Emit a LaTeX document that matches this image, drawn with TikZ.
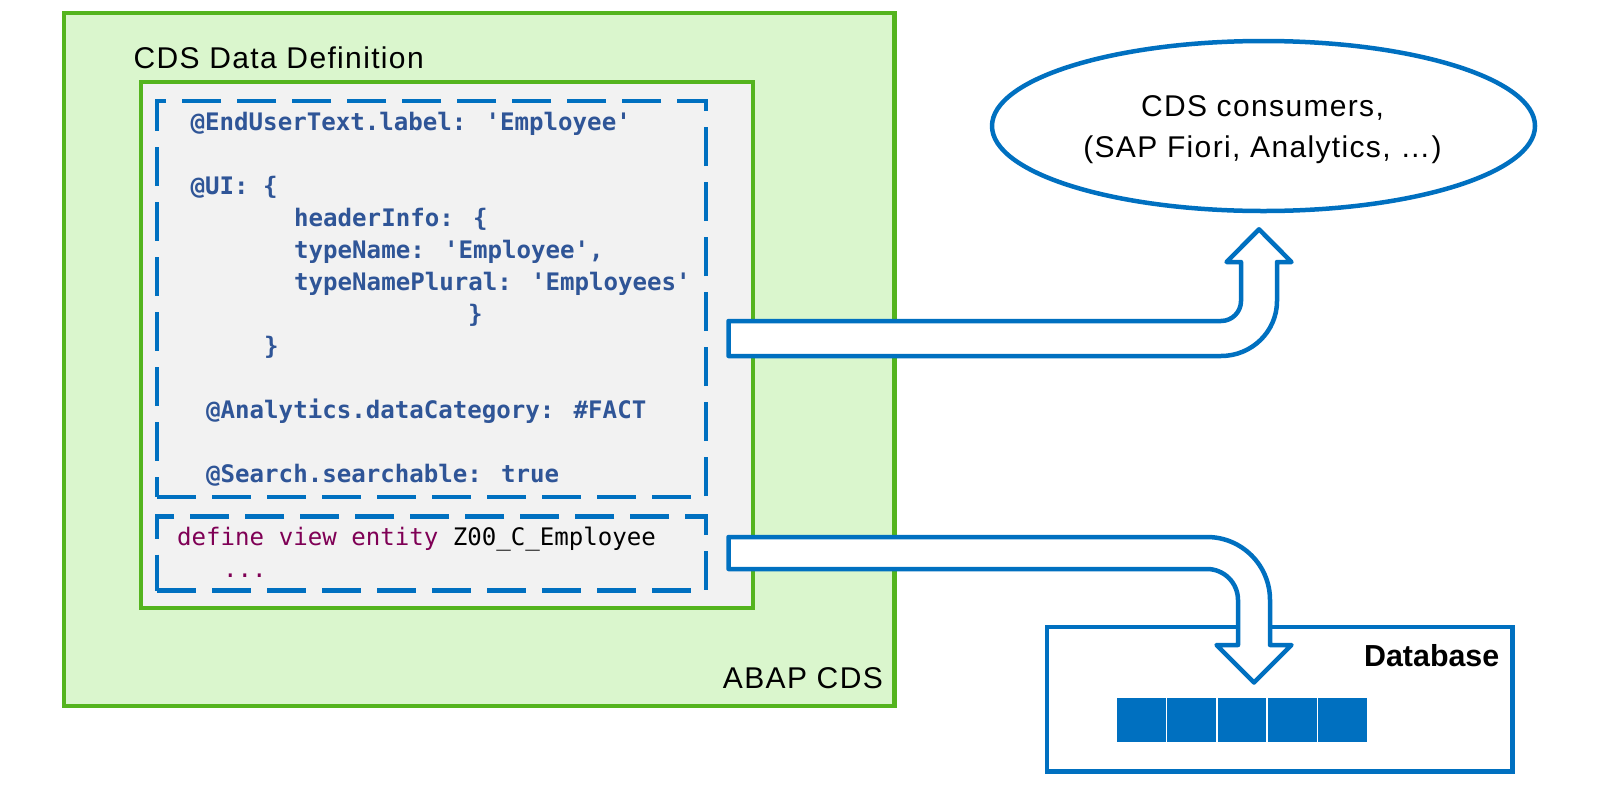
\documentclass[tikz,border=0pt]{standalone}
\usepackage{fontspec}
\setmainfont{Liberation Sans}
\newfontfamily\lblfont[LetterSpace=4.5]{Liberation Sans}
\newfontfamily\boldlbl{Liberation Sans}
\newfontfamily\codefont[Ligatures=TeXOff]{DejaVu Sans Mono}
\usetikzlibrary{shapes.geometric}
\definecolor{sapblue}{RGB}{0,112,192}
\definecolor{grn}{RGB}{84,180,30}
\definecolor{lgrn}{RGB}{218,246,205}
\definecolor{codegray}{RGB}{242,242,242}
\definecolor{annblue}{RGB}{47,85,151}
\definecolor{kwpurple}{RGB}{127,0,85}
\begin{document}
\begin{tikzpicture}[x=1pt,y=-1pt,
  greenbox/.style={draw=grn,line width=4.5pt,outer sep=0pt,inner sep=0pt},
  dashbox/.style={draw=sapblue,line width=4.3pt,dash pattern=on 39pt off 16pt,outer sep=0pt,inner sep=0pt,fill=codegray},
  blockarrow/.style={draw=sapblue,fill=white,line width=4.5pt,line join=round},
  sanslbl/.style={inner sep=0pt,font=\lblfont\fontsize{30}{36}\selectfont},
  dblbl/.style={inner sep=0pt,font=\boldlbl\bfseries\fontsize{30.4}{36}\selectfont},
  ann/.style={inner sep=0pt,anchor=base west,text=annblue,font=\codefont\bfseries\fontsize{24.1}{29}\selectfont},
  plaincode/.style={inner sep=0pt,anchor=base west,font=\codefont\fontsize{24.1}{29}\selectfont},
  cell/.style={fill=sapblue,draw=white,line width=1.2pt,minimum width=50.12pt,minimum height=45pt,inner sep=0pt,outer sep=0pt}]
\useasboundingbox[fill=white] (0,0) rectangle (1600,785);

% ABAP CDS outer box
\node[greenbox,fill=lgrn,minimum width=830.5pt,minimum height=693pt] (abap) at (479.25,359.5) {};
% CDS Data Definition inner box
\node[greenbox,fill=codegray,minimum width=612pt,minimum height=526pt] (ddl) at (447,345) {};
\node[sanslbl,anchor=base west] (ddltitle) at (133.5,68) {CDS Data Definition};
\node[sanslbl,anchor=base east] (abaptitle) at (883,688.3) {ABAP CDS};

% dashed boxes
\node[dashbox,minimum width=549pt,minimum height=396pt] (annbox) at (431.5,299) {};
\node[dashbox,minimum width=549pt,minimum height=74pt] (defbox) at (431.5,553.5) {};

% annotation code
\node[ann] (l1) at (190.5,130) {@EndUserText.label: 'Employee'};
\node[ann] (l2) at (190.5,194) {@UI: \{};
\node[ann] (l3) at (294,226) {headerInfo: \{};
\node[ann] (l4) at (294,258) {typeName: 'Employee',};
\node[ann] (l5) at (294,290) {typeNamePlural: 'Employees'};
\node[ann] (l6) at (468,322) {\}};
\node[ann] (l7) at (264,354) {\}};
\node[ann] (l8) at (206,418) {@Analytics.dataCategory: \#FACT};
\node[ann] (l9) at (206,482) {@Search.searchable: true};
\node[plaincode] (d1) at (177,545) {\textcolor{kwpurple}{define view entity} Z00\_C\_Employee};
\node[plaincode,text=kwpurple] (d2) at (223,577) {...};

% consumers ellipse
\node[ellipse,draw=sapblue,line width=4.5pt,minimum width=543pt,minimum height=170pt,inner sep=0pt,outer sep=0pt] (cons) at (1263.5,126) {};
\node[sanslbl,anchor=base] (cons1) at (1262.5,116.7) {CDS consumers,};
\node[sanslbl,anchor=base] (cons2) at (1262.5,157.3) {(SAP Fiori, Analytics, …)};

% database
\node[draw=sapblue,line width=4.8pt,minimum width=465.5pt,minimum height=144.7pt,inner sep=0pt,outer sep=0pt] (db) at (1279.75,699.35) {};
\node[dblbl,anchor=base east] (dbtitle) at (1499.5,666.7) {Database};
\foreach \i in {0,...,4} {
  \node[cell] (c\i) at (1141.76+\i*50.12,719.8) {};
}

% block arrow to consumers
\draw[blockarrow] (728.5,321) -- (1221,321)
  .. controls (1232.05,321) and (1241,312.05) .. (1241,301)
  -- (1241,262) -- (1226.5,262) -- (1259,229.3) -- (1291.5,262) -- (1277,262) -- (1277,301)
  .. controls (1277,331.4) and (1251.9,356) .. (1221,356)
  -- (728.5,356) -- cycle;

% block arrow to database
\draw[blockarrow] (728.5,537) -- (1207,537)
  .. controls (1241.8,537) and (1270,565.2) .. (1270,600)
  -- (1270,645) -- (1291.5,645) -- (1254,682.5) -- (1216.5,645) -- (1238,645) -- (1238,600)
  .. controls (1238,582.9) and (1224.1,569) .. (1207,569)
  -- (728.5,569) -- cycle;
\end{tikzpicture}
\end{document}
